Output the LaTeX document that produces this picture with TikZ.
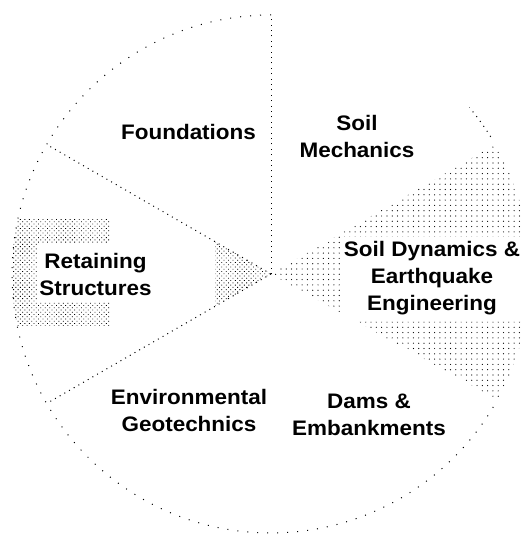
\documentclass[tikz,border=0pt]{standalone}
\usepackage{fontspec}
\setmainfont{Liberation Sans}[FakeStretch=1.07]
\usetikzlibrary{patterns.meta}
\begin{document}
\begin{tikzpicture}[x=1pt,y=1pt,
  radial/.style={line width=1pt, dash pattern=on 1pt off 4.4pt},
  rim/.style={line width=1pt, dash pattern=on 1pt off 9pt},
  rimdense/.style={line width=1pt, dash pattern=on 1pt off 5pt},
  coarsedots/.style={pattern={Dots[distance=5.3pt, radius=0.6pt]}},
  finedots/.style={pattern={Dots[distance=3.2pt, angle=45, radius=0.6pt]}},
  lbl/.style={font=\fontsize{21}{27}\selectfont\bfseries, align=center, anchor=base, inner sep=0pt}
]
\useasboundingbox (0,0) rectangle (520,534);
\clip (0,0) rectangle (520,534);
\fill[white] (0,0) rectangle (520,534);
\coordinate (C) at (271,260);
\def\R{259}
% shaded wedge: Soil Dynamics & Earthquake Engineering
\begin{scope}
  \clip (C) -- ++(-29:\R) arc[start angle=-29, end angle=30, radius=\R] -- cycle;
  \fill[coarsedots, even odd rule] (260,0) rectangle (540,534) (340,212) rectangle (540,297);
\end{scope}
% shaded parts of Retaining Structures wedge
\begin{scope}
  \clip (C) -- ++(150:\R) arc[start angle=150, end angle=210, radius=\R] -- cycle;
  \fill[finedots, even odd rule] (0,208) rectangle (110,316) (37,231) rectangle (110,291);
  \fill[finedots] (215,0) rectangle (280,534);
\end{scope}
% radial boundaries
\draw[radial] (C) -- ++(90:\R);
\draw[radial] (C) -- ++(150:\R);
\draw[radial] (C) -- ++(210:\R);
% rim
\draw[rim] (C) ++(90:\R) arc[start angle=90, end angle=331, radius=\R];
\draw[rimdense] (C) ++(32:\R) arc[start angle=32, end angle=40, radius=\R];
% labels (position = baseline of the last line)
\node[lbl] (found) at (188.5,394) {Foundations};
\node[lbl] (soilmech) at (357,376) {Soil\\Mechanics};
\node[lbl] (soildyn) at (432,223) {Soil Dynamics \&\\Earthquake\\Engineering};
\node[lbl] (retain) at (95.5,238) {Retaining\\Structures};
\node[lbl] (envgeo) at (189,102) {Environmental\\Geotechnics};
\node[lbl] (dams) at (369,98) {Dams \&\\Embankments};
\end{tikzpicture}
\end{document}
